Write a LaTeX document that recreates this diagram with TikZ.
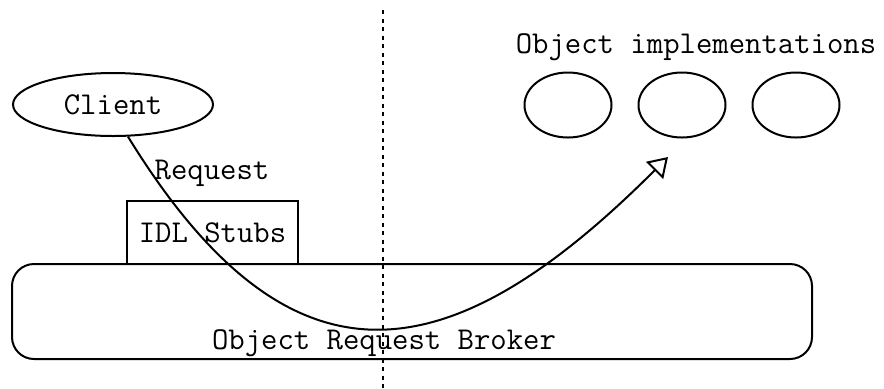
\documentclass[tikz,border=0pt]{standalone}
\usetikzlibrary{shapes.geometric,arrows.meta,positioning}

\begin{document}
\begin{tikzpicture}[
  x=0.5pt, y=-0.5pt, line width=1pt,
  node distance=12.5pt,
  font=\fontsize{15.9pt}{18pt}\selectfont\ttfamily,
  actor/.style={ellipse, draw, minimum width=100pt, minimum height=31.5pt, inner sep=0pt},
  impl/.style={ellipse, draw, minimum width=43.5pt, minimum height=32.5pt, inner sep=0pt},
  box/.style={rectangle, draw, minimum width=85.5pt, minimum height=31.5pt, inner sep=0pt},
  bus/.style={rectangle, draw, rounded corners=11pt, minimum width=400pt, minimum height=47.5pt},
  divider/.style={dash pattern=on 2pt off 2.25pt},
  arrow/.style={-{Triangle[open, length=9.5pt, width=12pt]}}
]
\useasboundingbox (0,0) rectangle (884,388);
\node[actor] (client) at (113,104.5) {Client};
\node[impl] (impl1) at (568,105) {};
\node[impl, right=of impl1] (impl2) {};
\node[impl, right=of impl2] (impl3) {};
\node (impllabel) at (696,47) {Object implementations};
\node[bus] (orb) at (412,311.5) {};
\node (orblabel) at (384,343) {Object Request Broker};
\node[box] (stubs) at (212.5,232.5) {IDL Stubs};
\node (reqlabel) at (212,173) {Request};
\coordinate (divtop) at (383,10);
\coordinate (divbot) at (383,388);
\coordinate (reqtip) at (668,157);
\draw[divider] (divtop) -- (divbot);
\draw[arrow] (client.-65) .. controls (290,400) and (448,377) .. (reqtip);
\end{tikzpicture}
\end{document}
